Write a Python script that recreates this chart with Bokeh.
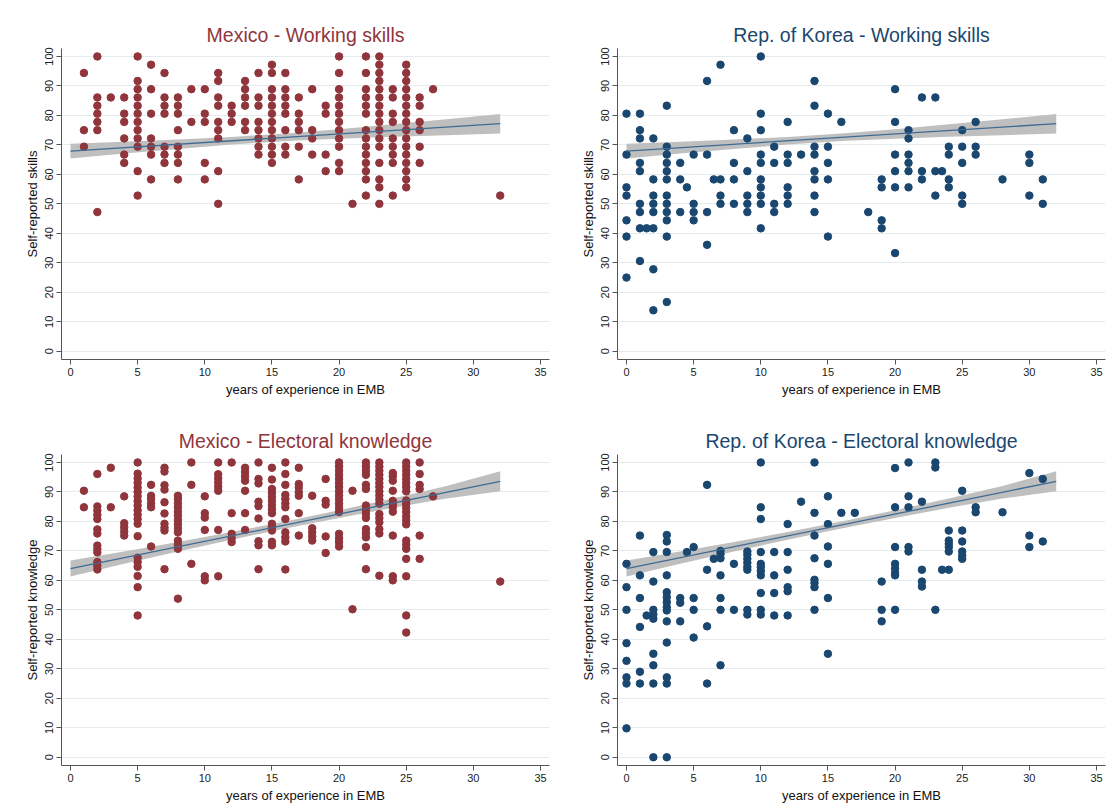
from bokeh.plotting import figure
from bokeh.layouts import gridplot
from bokeh.models import Range1d, FixedTicker
from bokeh.embed import file_html
from bokeh.resources import INLINE

# ---------------- data ----------------
x_ticks = [0, 5, 10, 15, 20, 25, 30, 35]
y_ticks = [0, 10, 20, 30, 40, 50, 60, 70, 80, 90, 100]

# Mexico - Working skills
mex_skill_years = [1, 2, 3, 4, 5, 6, 7, 8, 9, 10, 11, 12, 13, 14, 15, 16, 17, 18, 19, 20,
                   21, 22, 23, 24, 25, 26, 27, 32]
mex_skill_values = [
    [94.4, 75, 69.4],
    [100, 86.1, 83.3, 80.6, 77.8, 75, 47.2],
    [86.1],
    [86.1, 80.6, 77.8, 72.2, 66.7, 63.9],
    [100, 91.7, 88.9, 86.1, 83.3, 80.6, 77.8, 75, 72.2, 69.4, 61.1, 52.8],
    [97.2, 88.9, 80.6, 72.2, 69.4, 66.7, 58.3],
    [94.4, 86.1, 83.3, 80.6, 69.4, 66.7, 63.9],
    [86.1, 83.3, 80.6, 75, 69.4, 66.7, 63.9, 58.3],
    [88.9, 77.8],
    [88.9, 80.6, 77.8, 63.9, 58.3],
    [94.4, 91.7, 86.1, 83.3, 77.8, 75, 72.2, 61.1, 50],
    [83.3, 80.6, 77.8],
    [91.7, 88.9, 86.1, 83.3, 77.8, 75],
    [94.4, 86.1, 83.3, 77.8, 75, 72.2, 69.4, 66.7],
    [97.2, 94.4, 88.9, 86.1, 83.3, 80.6, 77.8, 75, 72.2, 69.4, 66.7, 63.9],
    [94.4, 88.9, 86.1, 83.3, 80.6, 75, 69.4, 66.7],
    [86.1, 80.6, 77.8, 75, 69.4, 58.3],
    [88.9, 75, 72.2, 66.7],
    [83.3, 80.6, 66.7, 61.1],
    [100, 94.4, 88.9, 86.1, 83.3, 80.6, 77.8, 75, 72.2, 69.4, 63.9, 61.1],
    [50],
    [100, 94.4, 88.9, 86.1, 83.3, 80.6, 75, 72.2, 69.4, 66.7, 63.9, 61.1, 58.3, 52.8],
    [100, 97.2, 94.4, 91.7, 88.9, 86.1, 83.3, 80.6, 77.8, 75, 72.2, 69.4, 63.9, 58.3, 55.6, 50],
    [88.9, 86.1, 80.6, 77.8, 72.2, 69.4, 66.7, 63.9, 52.8],
    [97.2, 94.4, 91.7, 88.9, 86.1, 83.3, 80.6, 77.8, 75, 72.2, 69.4, 66.7, 63.9, 61.1, 58.3, 55.6],
    [86.1, 83.3, 77.8, 75, 69.4, 63.9],
    [88.9],
    [52.8],
]

# Rep. of Korea - Working skills
kor_skill_years = [0, 1, 1.5, 2, 3, 4, 4.5, 5, 6, 6.5, 7, 8, 9, 10, 11, 12, 13, 14, 15, 16,
                   18, 19, 20, 21, 22, 23, 23.5, 24, 25, 26, 28, 30, 31]
kor_skill_values = [
    [80.6, 66.7, 55.6, 52.8, 44.4, 38.9, 25],
    [80.6, 75, 72.2, 63.9, 61.1, 50, 47.2, 41.7, 30.6],
    [41.7],
    [72.2, 58.3, 52.8, 50, 47.2, 41.7, 27.8, 13.9],
    [83.3, 69.4, 66.7, 63.9, 61.1, 58.3, 52.8, 50, 47.2, 44.4, 38.9, 16.7],
    [63.9, 58.3, 47.2],
    [55.6],
    [66.7, 50, 47.2, 44.4],
    [91.7, 66.7, 47.2, 36.1],
    [58.3],
    [97.2, 58.3, 52.8, 50],
    [75, 63.9, 58.3, 50],
    [72.2, 61.1, 52.8, 50, 47.2],
    [100, 80.6, 75, 66.7, 63.9, 58.3, 55.6, 52.8, 50, 41.7],
    [69.4, 63.9, 50, 47.2],
    [77.8, 66.7, 63.9, 55.6, 52.8, 50],
    [66.7],
    [91.7, 83.3, 69.4, 66.7, 61.1, 58.3, 52.8, 47.2],
    [80.6, 69.4, 63.9, 58.3, 38.9],
    [77.8],
    [47.2],
    [58.3, 55.6, 44.4, 41.7],
    [88.9, 77.8, 66.7, 61.1, 55.6, 33.3],
    [75, 72.2, 66.7, 63.9, 61.1, 55.6],
    [86.1, 61.1, 58.3],
    [86.1, 61.1, 52.8],
    [61.1],
    [69.4, 66.7, 58.3, 55.6],
    [75, 69.4, 63.9, 52.8, 50],
    [77.8, 69.4, 66.7],
    [58.3],
    [66.7, 63.9, 52.8],
    [58.3, 50],
]

# Mexico - Electoral knowledge
mex_know_years = [1, 2, 3, 4, 5, 6, 7, 8, 9, 10, 11, 12, 13, 14, 15, 16, 17, 18, 19, 20,
                  21, 22, 23, 24, 25, 26, 27, 32]
mex_know_values = [
    [90.4, 84.8],
    [96.1, 85.1, 83.7, 82.2, 80.8, 77.3, 75.9, 71.8, 70.6, 69.5, 66.2, 65.0, 63.7],
    [98.2, 84.8],
    [88.5, 79.4, 78.0, 76.6, 75.2],
    [100, 96.2, 94.6, 93.1, 91.5, 90, 88.5, 86.9, 85.4, 83.8, 82.3, 80.8, 79.2, 75,
     67.7, 66.2, 64.6, 61.5, 57.7, 48.1],
    [92.4, 88.7, 87.6, 86.1, 84.8, 71.5],
    [98.2, 96.9, 92.3, 90.8, 86.5, 82.7, 79.2, 77.9, 76.9, 63.8],
    [88.7, 87.6, 86.1, 84.8, 83.3, 82, 80.5, 79.1, 77.7, 76.3, 73.5, 72.1, 70.7, 53.8],
    [100, 92.4, 65.6],
    [88.5, 82.8, 81.3, 77.1, 61.4, 60],
    [100, 96, 94.6, 93.2, 91.8, 90.4, 77.1, 61.4],
    [100, 82.8, 75.8, 74.3, 73],
    [98.2, 96.8, 95.3, 93.8, 90.4, 82.8, 77.1],
    [100, 94.4, 92.9, 86.7, 85.2, 81, 73.3, 71.9, 63.8],
    [98.2, 94.2, 91, 89.7, 88.3, 86.9, 85.5, 84.1, 82.8, 79.2, 78.1, 76.9, 73.1, 71.9],
    [100, 96.1, 92.4, 89, 87.6, 86.1, 84.8, 80.8, 76.3, 74.6, 73.2, 63.7],
    [98.2, 92.7, 91.5, 89.9, 88.7, 82.8, 75.2],
    [88.7, 77.7, 76.3, 74.9, 73.5],
    [94.4, 87, 85.7, 74.9, 69.3],
    [100, 98.6, 97.2, 95.8, 94.4, 93, 91.7, 90.2, 88.8, 87.4, 86, 84.6, 83.2,
     75.8, 74.3, 73, 71.5],
    [90.4, 50.2],
    [100, 98.6, 97.2, 95.8, 92.4, 91, 85.4, 84, 82.6, 81.2, 77.4, 76, 74.6, 71.3, 63.8],
    [100, 98.6, 97.2, 95.8, 94.4, 93, 91.7, 90.2, 88.8, 87.4, 86, 82.5, 81.1, 79.7,
     77.4, 75.9, 61.6],
    [96.4, 95.3, 93.8, 90.4, 87, 85.9, 84.8, 83.3, 75.2, 61.4, 60],
    [100, 98.6, 97.2, 95.8, 94.4, 93, 91.7, 90.2, 87.1, 85.9, 84.6, 83.2, 81.7, 80.4, 79,
     73.5, 72.1, 70.7, 67.3, 61.4, 48.1, 42.3],
    [100, 96.1, 92.4, 91, 75.2, 67.3],
    [88.5],
    [59.6],
]

# Rep. of Korea - Electoral knowledge
kor_know_years = [0, 1, 1.5, 2, 3, 4, 4.5, 5, 6, 6.5, 7, 8, 9, 10, 11, 12, 13, 14, 15, 16,
                  17, 19, 20, 21, 22, 23, 23.5, 24, 25, 26, 28, 30, 31]
kor_know_values = [
    [65.6, 57.7, 50, 38.7, 32.7, 27.1, 25, 9.8],
    [75.2, 61.7, 54, 44.2, 29, 25],
    [48.1],
    [69.6, 59.6, 50, 48.5, 47, 35.1, 31.2, 25, 0],
    [75.4, 73.2, 69.6, 61.7, 56, 54.3, 52.6, 50.9, 49.8, 46.1, 38.9, 27.1, 25, 0],
    [54, 52.4, 46.1],
    [69.6],
    [71.3, 54, 50, 40.6],
    [92.4, 63.6, 44.4, 25],
    [67.3],
    [70, 68.9, 67.5, 61.7, 54, 50, 31.2],
    [65.6, 50],
    [69.8, 68.7, 67.3, 66, 64.6, 63.6, 50, 48.4],
    [100, 84.8, 80.8, 69.6, 65.6, 64.5, 63.2, 61.7, 55.7, 50, 48.4],
    [69.6, 61.7, 55.7, 48.1],
    [79.1, 69.6, 63.6, 57.7, 56.3, 48.1],
    [86.7],
    [100, 82.9, 75.2, 67.5, 60.2, 59.1, 57.7, 50],
    [88.5, 79.1, 71.5, 65.6, 54, 35.1],
    [82.9],
    [82.9],
    [59.6, 50, 46.1],
    [98.1, 84.8, 71.3, 65.6, 64, 62.5, 61.7, 50],
    [100, 88.5, 84.8, 71.3, 69.8],
    [86.7, 63.6, 59.6, 57.9],
    [100, 98.3, 50],
    [63.6],
    [76.9, 73.5, 72.4, 71.3, 69.8, 63.6],
    [90.4, 76.9, 73.2, 69.8, 68.4, 67.3],
    [84.8, 83.1],
    [83.1],
    [96.4, 75.2, 71.3],
    [94.4, 73.2],
]

# fitted lines and 95% CI bands
fit_x = [0, 32]
skills_fit_y = [67.9, 77.2]
knowledge_fit_y = [64.0, 93.6]
band_x = [0, 4, 8, 12, 16, 20, 24, 28, 32]
skills_band_lo = [65.4, 67.1, 68.6, 70.1, 71.3, 72.1, 72.8, 73.3, 73.9]
skills_band_hi = [70.4, 71.1, 71.8, 72.7, 73.9, 75.3, 77.0, 78.7, 80.5]
knowledge_band_lo = [61.3, 65.6, 69.8, 73.8, 77.6, 81.2, 84.6, 87.8, 90.2]
knowledge_band_hi = [66.7, 69.8, 73.0, 76.4, 80.0, 83.8, 87.8, 92.0, 97.0]

MAROON = "#90353b"
NAVY = "#1a476f"
FIT = "#3f6b93"
BAND = "#bfbfbf"
FONT = "Liberation Sans"


def make_panel(title, color, ylabel, years, values, fit_y, band_lo, band_hi):
    xs = [yr for yr, vals in zip(years, values) for _ in vals]
    ys = [v for vals in values for v in vals]
    p = figure(width=556, height=406, output_backend="svg", toolbar_location=None,
               x_range=Range1d(-0.67, 35.67), y_range=Range1d(-2.8, 102.7),
               min_border_left=61, min_border_right=7, min_border_top=48,
               min_border_bottom=47)
    p.title.text = title
    p.title.text_color = color
    p.title.text_font = FONT
    p.title.text_font_size = "19.5px"
    p.title.text_font_style = "normal"
    p.title.align = "center"
    p.title.standoff = 6
    p.outline_line_color = None
    p.background_fill_color = "white"
    p.border_fill_color = "white"

    p.varea(x=band_x, y1=band_lo, y2=band_hi, fill_color=BAND, fill_alpha=1.0)
    p.scatter(xs, ys, size=7.5, fill_color=color, line_color=color)
    p.line(fit_x, fit_y, line_color=FIT, line_width=1.3)

    p.xgrid.visible = False
    p.ygrid.grid_line_color = "#e4ecee"
    p.ygrid.grid_line_width = 1
    p.ygrid.ticker = FixedTicker(ticks=y_ticks)

    p.xaxis.ticker = FixedTicker(ticks=x_ticks)
    p.yaxis.ticker = FixedTicker(ticks=y_ticks)
    p.xaxis.axis_label = "years of experience in EMB"
    p.yaxis.axis_label = ylabel
    p.yaxis.major_label_orientation = "vertical"
    for ax in (p.xaxis, p.yaxis):
        ax.axis_line_color = "#555555"
        ax.major_tick_line_color = "#555555"
        ax.major_tick_out = 5
        ax.major_tick_in = 0
        ax.minor_tick_line_color = None
        ax.major_label_text_font = FONT
        ax.major_label_text_font_size = "11px"
        ax.major_label_text_color = "#222222"
        ax.axis_label_text_font = FONT
        ax.axis_label_text_font_size = "13px"
        ax.axis_label_text_font_style = "normal"
        ax.axis_label_text_color = "#111111"
        ax.axis_label_standoff = 3
        ax.major_label_standoff = 3
    return p


p1 = make_panel("Mexico - Working skills", MAROON, "Self-reported skills",
                mex_skill_years, mex_skill_values, skills_fit_y, skills_band_lo, skills_band_hi)
p2 = make_panel("Rep. of Korea - Working skills", NAVY, "Self-reported skills",
                kor_skill_years, kor_skill_values, skills_fit_y, skills_band_lo, skills_band_hi)
p3 = make_panel("Mexico - Electoral knowledge", MAROON, "Self-reported knowledge",
                mex_know_years, mex_know_values, knowledge_fit_y, knowledge_band_lo, knowledge_band_hi)
p4 = make_panel("Rep. of Korea - Electoral knowledge", NAVY, "Self-reported knowledge",
                kor_know_years, kor_know_values, knowledge_fit_y, knowledge_band_lo, knowledge_band_hi)

grid = gridplot([[p1, p2], [p3, p4]], toolbar_location=None)

open("out.html", "w").write(file_html(grid, INLINE))
